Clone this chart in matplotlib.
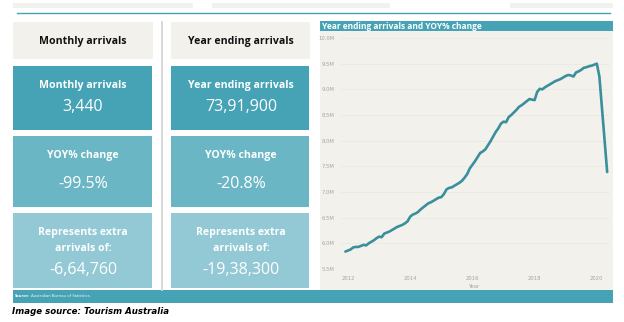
import matplotlib
matplotlib.use("Agg")
import matplotlib.pyplot as plt
from matplotlib.patches import Rectangle
import pandas as pd
import numpy as np

# ---------------- data ----------------
months = list(pd.date_range("2011-12-01", "2020-02-01", freq="MS")) + [pd.Timestamp("2020-05-01")]
arrivals_m = [
    5.84,
    5.86, 5.88, 5.92, 5.93, 5.93, 5.95, 5.97, 5.96, 6.00, 6.03, 6.06, 6.10,
    6.13, 6.12, 6.19, 6.21, 6.23, 6.26, 6.29, 6.32, 6.34, 6.36, 6.39, 6.43,
    6.52, 6.56, 6.58, 6.61, 6.66, 6.70, 6.74, 6.78, 6.80, 6.83, 6.86, 6.89,
    6.90, 6.96, 7.05, 7.08, 7.09, 7.12, 7.15, 7.18, 7.22, 7.28, 7.35, 7.46,
    7.53, 7.60, 7.68, 7.76, 7.79, 7.83, 7.91, 7.99, 8.08, 8.17, 8.24, 8.33,
    8.37, 8.36, 8.46, 8.50, 8.55, 8.60, 8.66, 8.69, 8.73, 8.77, 8.81, 8.80,
    8.79, 8.95, 9.01, 9.00, 9.04, 9.07, 9.10, 9.13, 9.16, 9.18, 9.20, 9.23,
    9.26, 9.28, 9.27, 9.25, 9.33, 9.35, 9.38, 9.42, 9.43, 9.45, 9.46, 9.48,
    9.50, 9.25,
    7.39,
]
y_ticks = [5.5, 6.0, 6.5, 7.0, 7.5, 8.0, 8.5, 9.0, 9.5, 10.0]
y_tick_labels = ["5.5M", "6.0M", "6.5M", "7.0M", "7.5M", "8.0M", "8.5M", "9.0M", "9.5M", "10.0M"]
x_tick_years = [2012, 2014, 2016, 2018, 2020]

card_headers = ["Monthly arrivals", "Year ending arrivals"]
card_main_labels = ["Monthly arrivals", "Year ending arrivals"]
card_main_values = ["3,440", "73,91,900"]
card_yoy_values = ["-99.5%", "-20.8%"]
card_extra_values = ["-6,64,760", "-19,38,300"]

chart_title = "Year ending arrivals and YOY% change"
source_text = "Australian Bureau of Statistics."
caption = "Image source: Tourism Australia"

# ---------------- style ----------------
W, H = 624, 322
TEAL = "#45a3b5"
TEAL2 = "#6bb6c4"
TEAL3 = "#92c9d5"
BEIGE = "#f3f1ec"
LINE = "#3a8f9c"
FONT = "Open Sans"
LBL = 7.6
VAL = 11.5

fig = plt.figure(figsize=(W / 100, H / 100), dpi=100, facecolor="white")
bg = fig.add_axes([0, 0, 1, 1])
bg.set_xlim(0, W)
bg.set_ylim(H, 0)
bg.axis("off")


def rect(x0, y0, x1, y1, color, z=1):
    bg.add_patch(Rectangle((x0, y0), x1 - x0, y1 - y0, facecolor=color, edgecolor="none", zorder=z))


# faint top strips and teal rule
for a, b in [(13, 193), (212, 390), (510, 613)]:
    rect(a, 3, b, 8, "#f2f1ee")
bg.plot([17, 610], [13.3, 13.3], color=TEAL, lw=1.0, zorder=2)

# separator
bg.plot([162, 162], [22, 290], color="#d6d6d6", lw=1.3, zorder=2)

cols = [(13, 153, 83), (171, 310, 241)]
for i, (x0, x1, cx) in enumerate(cols):
    rect(x0, 22, x1, 59, BEIGE)
    bg.text(cx, 41, card_headers[i], ha="center", va="center", fontsize=LBL,
            fontweight="bold", family=FONT, color="#111111", zorder=3)
    rect(x0, 66, x1 - 1, 130, TEAL)
    bg.text(cx, 85.5, card_main_labels[i], ha="center", va="center", fontsize=LBL,
            fontweight="bold", family=FONT, color="white", zorder=3)
    bg.text(cx, 107, card_main_values[i], ha="center", va="center", fontsize=VAL,
            family=FONT, color="white", zorder=3)
    rect(x0, 136, x1 - 1, 207, TEAL2)
    bg.text(cx, 155.5, "YOY% change", ha="center", va="center", fontsize=LBL,
            fontweight="bold", family=FONT, color="white", zorder=3)
    bg.text(cx, 184, card_yoy_values[i], ha="center", va="center", fontsize=VAL,
            family=FONT, color="white", zorder=3)
    rect(x0, 213, x1 - 1, 288, TEAL3)
    bg.text(cx, 232, "Represents extra", ha="center", va="center", fontsize=LBL,
            fontweight="bold", family=FONT, color="white", zorder=3)
    bg.text(cx, 248, "arrivals of:", ha="center", va="center", fontsize=LBL,
            fontweight="bold", family=FONT, color="white", zorder=3)
    bg.text(cx, 270, card_extra_values[i], ha="center", va="center", fontsize=VAL,
            family=FONT, color="white", zorder=3)

# chart panel
rect(320, 31, 613, 290, BEIGE)
rect(320, 21, 613, 31, TEAL)
bg.text(322, 26.3, chart_title, ha="left", va="center", fontsize=6.0,
        fontweight="bold", family=FONT, color="white", zorder=3)

# bottom bar + source
rect(13, 290, 613, 302.5, TEAL)
bg.text(15, 296.3, "Source:", ha="left", va="center", fontsize=3.0, fontweight="bold",
        family=FONT, color="white", zorder=3)
bg.text(31, 296.3, source_text, ha="left", va="center", fontsize=3.0,
        family=FONT, color="white", zorder=3)

bg.text(12, 312, caption, ha="left", va="center", fontsize=6.2, fontweight="bold",
        style="italic", family="DejaVu Sans", color="black", zorder=3)

# line chart axes: pixel-placed
ax_l, ax_r, ax_t, ax_b = 340, 610, 38, 269
ax = fig.add_axes([ax_l / W, 1 - ax_b / H, (ax_r - ax_l) / W, (ax_b - ax_t) / H])
ax.patch.set_alpha(0)
x_years = [m.year + (m.month - 1) / 12 for m in months]
px_per_year = 31.1
xl = 2012 - (348 - ax_l) / px_per_year
xr = 2012 + (ax_r - 348) / px_per_year
ax.set_xlim(xl, xr)
ax.set_ylim(5.5, 10.0)
ax.plot(x_years, arrivals_m, color=LINE, lw=1.9, solid_joinstyle="round",
        solid_capstyle="round", clip_on=False, zorder=3)
for s in ax.spines.values():
    s.set_visible(False)
ax.set_yticks(y_ticks)
ax.set_yticklabels(y_tick_labels)
ax.set_xticks(x_tick_years)
ax.set_xticklabels([str(y) for y in x_tick_years])
ax.tick_params(length=0, labelsize=3.8, labelcolor="#a5a5a5", pad=4)
ax.tick_params(axis="x", pad=5)
ax.grid(axis="y", color="#e9e7e1", lw=0.5)
ax.set_axisbelow(True)
ax.set_xlabel("Year", fontsize=3.8, color="#a5a5a5", labelpad=2)

fig.savefig("out.png", dpi=100, facecolor="white")
